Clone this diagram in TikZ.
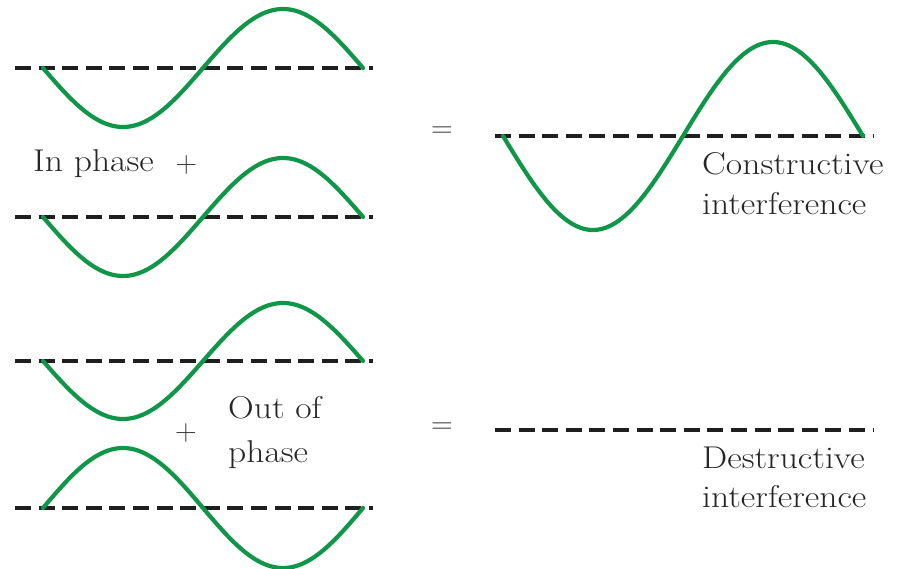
\documentclass[tikz,border=0pt]{standalone}
\usepackage{fontspec}
\setmainfont{Latin Modern Roman}
\newcommand{\widetxt}[1]{\scalebox{1.13}[1]{#1}}
\begin{document}
\begin{tikzpicture}[x=1pt,y=-1pt,
  axisline/.style={line width=4pt,color=black!88,dash pattern=on 16pt off 7.6pt},
  wave/.style={line width=4.2pt,color={rgb,255:red,16;green,150;blue,72},line cap=round},
  lbl/.style={inner sep=0pt,text=black!85,font=\fontsize{31.5}{36}\selectfont},
  op/.style={inner sep=0pt,text=black!75,font=\fontsize{30}{36}\selectfont}]
\useasboundingbox (0,0) rectangle (900,569);
% axes
\draw[axisline] (15,68) -- (373,68);
\draw[axisline] (15,217) -- (373,217);
\draw[axisline] (15,361) -- (373,361);
\draw[axisline] (15,508) -- (373,508);
\draw[axisline] (495,136) -- (873,136);
\draw[axisline] (495,430) -- (873,430);
% waves
\draw[wave] plot[domain=0:360,samples=120] ({43+0.88889*\x},{68+59*sin(\x)});
\draw[wave] plot[domain=0:360,samples=120] ({43+0.88889*\x},{217+59*sin(\x)});
\draw[wave] plot[domain=0:360,samples=120] ({43+0.88889*\x},{361+58*sin(\x)});
\draw[wave] plot[domain=0:360,samples=120] ({43+0.88889*\x},{508-60*sin(\x)});
\draw[wave] plot[domain=0:360,samples=150] ({503+\x},{136+94*sin(\x)});
% labels
\node[lbl,anchor=base west] (inphase) at (33,172) {\widetxt{In phase}};
\node[op] (plus1) at (186.5,165) {+};
\node[op] (eq1) at (442,132) {=};
\node[lbl,anchor=base west] (cons1) at (702,175) {\widetxt{Constructive}};
\node[lbl,anchor=base west] (cons2) at (702,215) {\widetxt{interference}};
\node[lbl,anchor=base west] (out1) at (228,418) {\widetxt{Out of}};
\node[lbl,anchor=base west] (out2) at (228,462) {\widetxt{phase}};
\node[op] (plus2) at (186,433) {+};
\node[op] (eq2) at (442,428) {=};
\node[lbl,anchor=base west] (des1) at (702,468) {\widetxt{Destructive}};
\node[lbl,anchor=base west] (des2) at (702,507) {\widetxt{interference}};
\end{tikzpicture}
\end{document}
